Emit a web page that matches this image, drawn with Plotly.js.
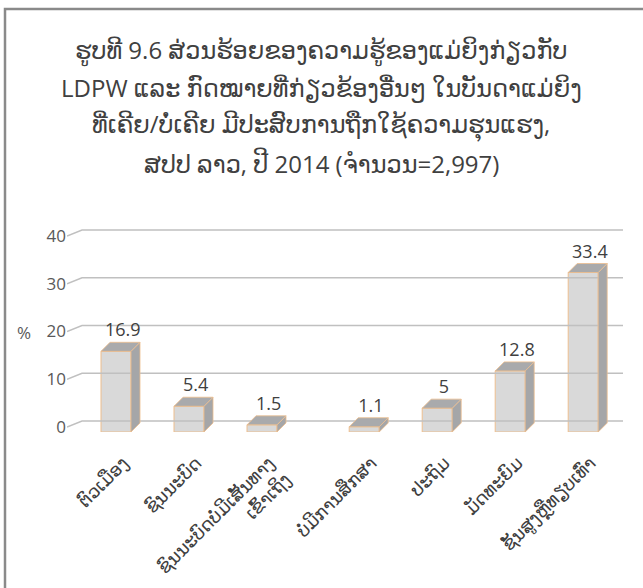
<!DOCTYPE html>
<html>
<head>
<meta charset="utf-8">
<script src="https://cdn.plot.ly/plotly-3.0.1.min.js"></script>
<style>
html,body{margin:0;padding:0;background:#fff;}
#chart{width:643px;height:588px;}
</style>
</head>
<body>
<div id="chart"></div>
<script>
// ---- data ----
const categories = [
  "ຕົວເມືອງ",
  "ຊົນນະບົດ",
  "ຊົນນະບົດບໍ່ມີເສັ້ນທາງ<br>ເຂົ້າເຖິງ",
  "ບໍ່ມີການສຶກສາ",
  "ປະຖົມ",
  "ມັດທະຍົມ",
  "ຊັ້ນສູງຫຼືທຽບເທົ່າ"
];
const values = [16.9, 5.4, 1.5, 1.1, 5, 12.8, 33.4];
const valueLabels = ["16.9", "5.4", "1.5", "1.1", "5", "12.8", "33.4"];
const yTickVals = [0, 10, 20, 30, 40];
const yTickText = ["0", "10", "20", "30", "40"];
const yAxisLabel = "%";
const titleLines = [
  "ຮູບທີ 9.6 ສ່ວນຮ້ອຍຂອງຄວາມຮູ້ຂອງແມ່ຍິງກ່ຽວກັບ",
  "LDPW ແລະ ກົດໝາຍທີ່ກ່ຽວຂ້ອງອື່ນໆ ໃນບັນດາແມ່ຍິງ",
  "ທີ່ເຄີຍ/ບໍ່ເຄີຍ ມີປະສົບການຖືກໃຊ້ຄວາມຮຸນແຮງ,",
  "ສປປ ລາວ, ປີ 2014 (ຈຳນວນ=2,997)"
];

// ---- geometry / style (pixel-based projection) ----
const W = 643, H = 588;
const mL = 67, mR = 20, mT = 220, mB = 156;
const plotW = W - mL - mR, plotH = H - mT - mB;
const pxX = 73;          // px per category unit
const pxY = 4.775;       // px per % unit
const xFirst = 116;      // pixel centre of first bar front
const zeroFront = 427;   // pixel of 0 on front wall
const xRange = [(mL - xFirst) / pxX, (mL + plotW - xFirst) / pxX];
const yRange = [(zeroFront - (mT + plotH)) / pxY, (zeroFront - mT) / pxY];
const barBase = yRange[0];
const barW = 30 / pxX;
const dX = 9 / pxX, dY = 9 / pxY;       // bar depth
const gX = 15 / pxX, gY = 6 / pxY;      // wall depth
const groupGap = 0.4;
const xpos = categories.map((c, i) => i + (i >= 3 ? groupGap : 0));

const frontCol = "#D9D9D9", topCol = "#A9AAAC", sideCol = "#A5A6A8", edgeCol = "#EDBE8E";
const font = "Open Sans, DejaVu Sans, sans-serif";
const textCol = "#404040";

const traces = [];
// gridlines on the back wall
const gx = [], gy = [];
yTickVals.forEach(v => {
  gx.push(xRange[0], xRange[0] + gX, xRange[1], null);
  gy.push(v, v + gY, v + gY, null);
});
traces.push({type: "scatter", mode: "lines", x: gx, y: gy, cliponaxis: false,
  line: {color: "#C0C0C0", width: 1.6}, hoverinfo: "skip", showlegend: false});

// 3D faces
values.forEach((v, i) => {
  const xl = xpos[i] - barW / 2, xr = xpos[i] + barW / 2;
  const top = barBase + v;
  traces.push({type: "scatter", mode: "lines", fill: "toself", fillcolor: sideCol, cliponaxis: false,
    x: [xr, xr + dX, xr + dX, xr, xr], y: [barBase, barBase + dY, top + dY, top, barBase],
    line: {color: edgeCol, width: 0.8}, hoverinfo: "skip", showlegend: false});
  traces.push({type: "scatter", mode: "lines", fill: "toself", fillcolor: topCol, cliponaxis: false,
    x: [xl, xl + dX, xr + dX, xr, xl], y: [top, top + dY, top + dY, top, top],
    line: {color: edgeCol, width: 0.8}, hoverinfo: "skip", showlegend: false});
});
// front faces
traces.push({type: "bar", x: xpos, y: values, base: values.map(() => barBase), width: barW,
  marker: {color: frontCol, line: {color: edgeCol, width: 1}}, hoverinfo: "skip", showlegend: false,
  cliponaxis: false});
// value labels
traces.push({type: "scatter", mode: "text", cliponaxis: false,
  x: xpos.map(x => x + dX / 2 + 0.03), y: values.map(v => barBase + v + dY + 0.3),
  text: valueLabels, textposition: "top center",
  textfont: {family: font, size: 18, color: textCol}, hoverinfo: "skip", showlegend: false});

const py = p => (mT + plotH - p) / plotH;   // pixel y -> paper
const px = p => (p - mL) / plotW;           // pixel x -> paper

const annotations = [];
const titleY = [50, 88, 125, 163];
titleLines.forEach((t, i) => annotations.push({
  text: t, xref: "paper", yref: "paper", x: px(321), y: py(titleY[i]),
  xanchor: "center", yanchor: "middle", showarrow: false,
  font: {family: font, size: 24, color: textCol}
}));
annotations.push({text: yAxisLabel, xref: "paper", yref: "paper", x: px(24), y: py(332),
  xanchor: "center", yanchor: "middle", showarrow: false,
  font: {family: font, size: 17, color: "#595959"}});

const layout = {
  width: W, height: H,
  margin: {l: mL, r: mR, t: mT, b: mB},
  paper_bgcolor: "#fff", plot_bgcolor: "rgba(0,0,0,0)",
  showlegend: false,
  xaxis: {range: xRange, showgrid: false, zeroline: false, showline: false, ticks: "",
    tickmode: "array", tickvals: xpos.map(x => x + 0.1), ticktext: categories, tickangle: -45,
    ticklabelstandoff: 16,
    tickfont: {family: font, size: 18, color: textCol}, fixedrange: true},
  yaxis: {range: yRange, showgrid: false, zeroline: false, showline: false, ticks: "",
    tickmode: "array", tickvals: yTickVals, ticktext: yTickText,
    tickfont: {family: font, size: 17, color: "#595959"}, fixedrange: true},
  annotations: annotations,
  shapes: [{type: "rect", xref: "paper", yref: "paper", x0: px(5), x1: px(700), y0: py(700), y1: py(9),
    line: {color: "#8A8A8A", width: 2.5}, fillcolor: "rgba(0,0,0,0)", layer: "below"}]
};

Plotly.newPlot("chart", traces, layout, {displayModeBar: false, staticPlot: true});
</script>
</body>
</html>
